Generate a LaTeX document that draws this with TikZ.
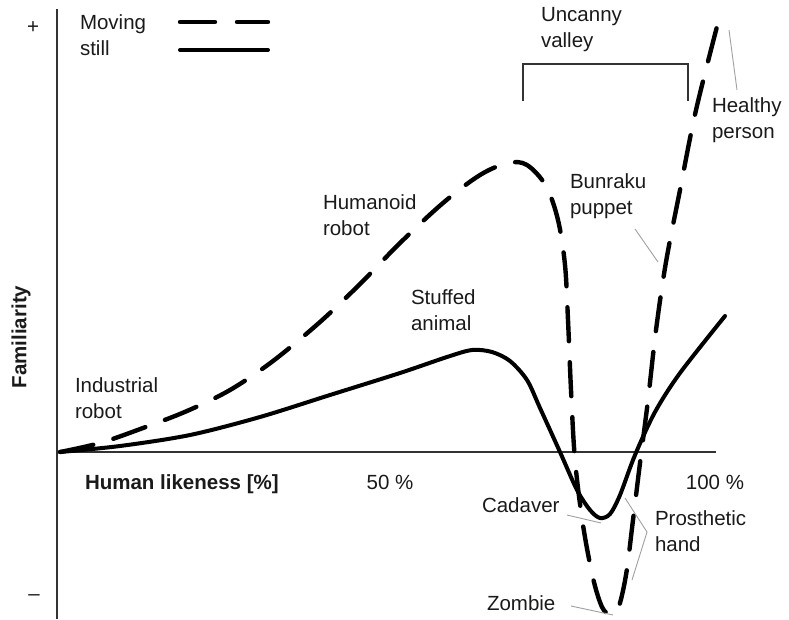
\documentclass[tikz,border=0pt]{standalone}
\usepackage{fontspec}
\setmainfont{Liberation Sans}
\definecolor{txt}{HTML}{1A1A1A}
\definecolor{axisc}{HTML}{333333}
\definecolor{leadc}{HTML}{A0A0A0}
\begin{document}
\begin{tikzpicture}[x=1pt,y=-1pt,
  every node/.style={inner sep=0pt,outer sep=0pt,text=txt,font=\fontsize{20.5}{26}\selectfont},
  lbl/.style={anchor=west,align=left},
  axisline/.style={draw=axisc,line width=2.5pt},
  moving/.style={line width=4.4pt,line cap=round,dash pattern=on 34pt off 21pt},
  stillc/.style={line width=4pt,line cap=round},
  leader/.style={draw=leadc,line width=0.9pt},
  bracketc/.style={draw=axisc,line width=2.8pt}]
\useasboundingbox (0,0) rectangle (789,619);
% axes
\coordinate (ytop) at (57,9);
\coordinate (ybot) at (57,619);
\coordinate (xl) at (57,452);
\coordinate (xr) at (716,452);
\draw[axisline] (ytop) -- (ybot);
\draw[axisline] (xl) -- (xr);
\node (plus) at (33,28) {+};
\node (minus) at (34,598) {–};
\node[rotate=90,font=\fontsize{20.5}{26}\selectfont\bfseries] (fam) at (21,337) {Familiarity};
\node[lbl,font=\fontsize{20.5}{26}\selectfont\bfseries] (hl) at (85,484) {Human likeness [\%]};
\node (p50) at (390,482) {50 \%};
\node (p100) at (715,482) {100 \%};
% legend
\node[lbl] (leg) at (80,35) {Moving\\still};
\coordinate (lm1) at (180,22); \coordinate (lm2) at (268,22);
\coordinate (ls1) at (180,50); \coordinate (ls2) at (268,50);
\draw[line width=4.4pt,line cap=round,dash pattern=on 35pt off 22pt] (lm1) -- (lm2);
\draw[stillc] (ls1) -- (ls2);
% uncanny valley bracket
\node[lbl] (uv) at (541,30) {Uncanny\\valley};
\coordinate (b1) at (523,101); \coordinate (b2) at (523,64);
\coordinate (b3) at (688,64); \coordinate (b4) at (688,101);
\draw[bracketc] (b1) -- (b2) -- (b3) -- (b4);
% curves
\draw[moving] plot[smooth,tension=0.55] coordinates {(60,452) (100,443) (143,428) (187,411) (230,390) (273,361) (320,322) (360,284) (400,243) (443,203) (480,175) (508,163) (527,165) (546,186) (558,220) (565,265) (568,320) (571,390) (575,460) (583,525) (593,578) (602,607) (610,614) (618,609) (626,575) (633,520) (640,463) (648,400) (656,330) (666,262) (680,190) (696,110) (720,15)};
\draw[stillc] plot[smooth,tension=0.5] coordinates {(60,452) (120,446) (190,435) (260,417) (330,395) (400,373) (447,357) (472,350) (492,352) (510,361) (527,380) (540,408) (560,452) (577,490) (590,510) (600,518) (610,514) (620,495) (635,455) (655,412) (680,373) (725,316)};
% labels
\node[lbl] (ir) at (75,398) {Industrial\\robot};
\node[lbl] (hr) at (323,215) {Humanoid\\robot};
\node[lbl] (sa) at (411,310) {Stuffed\\animal};
\node[lbl] (bp) at (570,196) {Bunraku\\puppet};
\node[lbl] (hp) at (712,120) {Healthy\\person};
\node[lbl] (ph) at (655,531) {Prosthetic\\hand};
\node[lbl] (cad) at (482,505) {Cadaver};
\node[lbl] (zom) at (487,603) {Zombie};
% leaders
\coordinate (hpa) at (729,30); \coordinate (hpb) at (737,90);
\draw[leader] (hpa) -- (hpb);
\coordinate (bpa) at (635,229); \coordinate (bpb) at (658,262);
\draw[leader] (bpa) -- (bpb);
\coordinate (caa) at (567,515); \coordinate (cab) at (601,523);
\draw[leader] (caa) -- (cab);
\coordinate (zoa) at (571,606); \coordinate (zob) at (613,615);
\draw[leader] (zoa) -- (zob);
\coordinate (pha) at (625,498); \coordinate (phb) at (647,532); \coordinate (phc) at (632,580);
\draw[leader] (pha) -- (phb) -- (phc);
\end{tikzpicture}
\end{document}
